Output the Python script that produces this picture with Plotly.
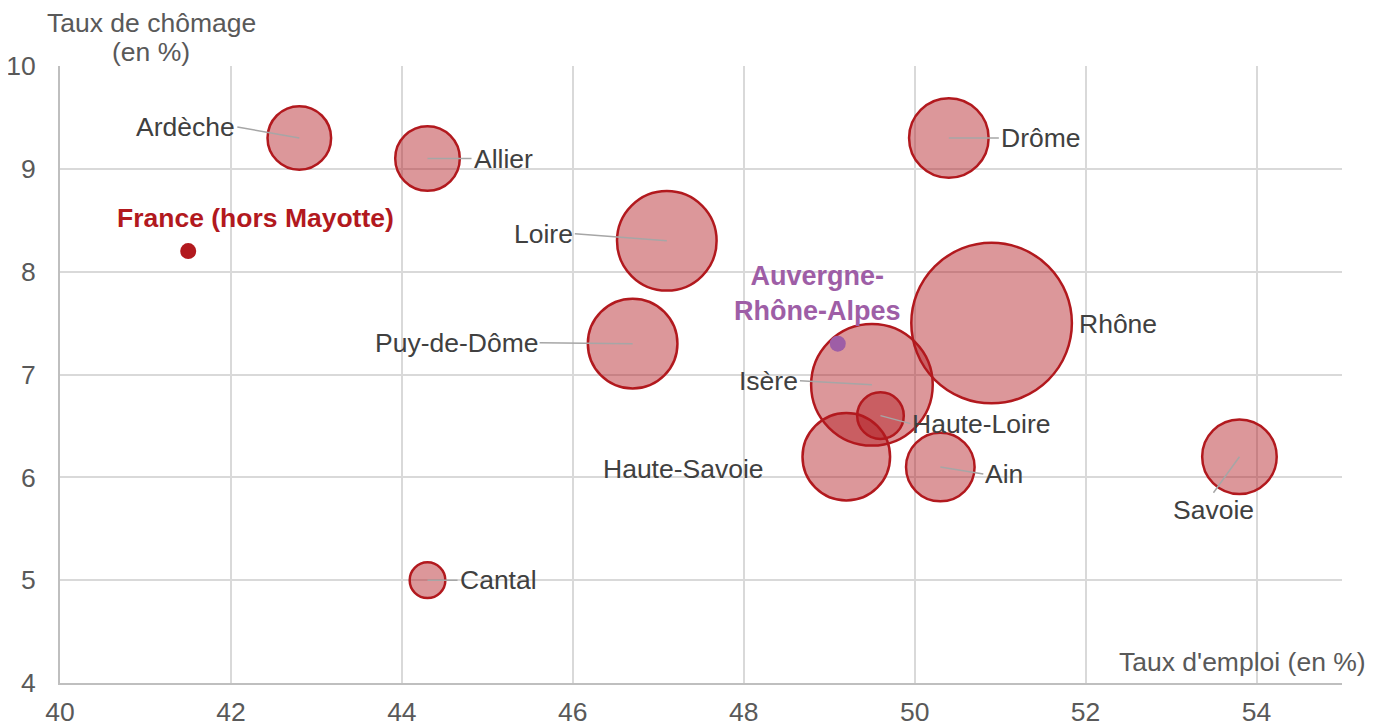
import plotly.graph_objects as go

# Data
departements = ["Ardèche", "Allier", "Drôme", "Loire", "Rhône", "Puy-de-Dôme",
                "Isère", "Haute-Loire", "Haute-Savoie", "Ain", "Savoie", "Cantal"]
taux_emploi = [42.8, 44.3, 50.4, 47.1, 50.9, 46.7, 49.5, 49.6, 49.2, 50.3, 53.8, 44.3]
taux_chomage = [9.3, 9.1, 9.3, 8.3, 7.5, 7.3, 6.9, 6.6, 6.2, 6.1, 6.2, 5.0]
poids = [283, 292, 443, 694, 1805, 562, 1035, 152, 537, 329, 389, 89]

ref_noms = ["France (hors Mayotte)", "Auvergne-<br>Rhône-Alpes"]
ref_emploi = [41.5, 49.1]
ref_chomage = [8.2, 7.3]

x_ticks = [40, 42, 44, 46, 48, 50, 52, 54]
y_ticks = [4, 5, 6, 7, 8, 9, 10]

# label placement (pixel offsets) : (ax, ay, xanchor, yanchor, arrow)
label_style = {
    "Ardèche": (-62, -11, "right", "middle", True),
    "Allier": (44, 0, "left", "middle", True),
    "Drôme": (50, 0, "left", "middle", True),
    "Loire": (-92, -7, "right", "middle", True),
    "Rhône": (85, 1, "left", "middle", False),
    "Puy-de-Dôme": (-93, -1, "right", "middle", True),
    "Isère": (-72, -4, "right", "middle", True),
    "Haute-Loire": (30, 8, "left", "middle", True),
    "Haute-Savoie": (-80, 12, "right", "middle", False),
    "Ain": (43, 7, "left", "middle", True),
    "Savoie": (-26, 36, "center", "top", True),
    "Cantal": (30, 0, "left", "middle", True),
}

FONT = "Liberation Sans, Arial, sans-serif"
FS = 26.5
RED = "#B2191E"
PURPLE = "#9E5EA6"
sizeref = 0.14

fig = go.Figure()
fig.add_trace(go.Scatter(
    x=taux_emploi, y=taux_chomage, mode="markers",
    marker=dict(size=poids, sizemode="area", sizeref=sizeref, opacity=1,
                color="rgba(178,25,30,0.45)",
                line=dict(color=RED, width=2.5)),
    hoverinfo="text", text=departements, showlegend=False))

fig.add_trace(go.Scatter(
    x=ref_emploi, y=ref_chomage, mode="markers",
    marker=dict(size=16, color=[RED, PURPLE], opacity=1, line=dict(width=0)),
    showlegend=False, hoverinfo="skip"))

annotations = []
for name, xv, yv in zip(departements, taux_emploi, taux_chomage):
    ax, ay, xa, ya, arrow = label_style[name]
    if arrow:
        annotations.append(dict(
            x=xv, y=yv, xref="x", yref="y", text=name, showarrow=True,
            ax=ax, ay=ay, xanchor=xa, yanchor=ya, arrowhead=0,
            arrowwidth=1.5, arrowcolor="#A6A6A6", standoff=0,
            font=dict(family=FONT, size=FS, color="#404040")))
    else:
        annotations.append(dict(
            x=xv, y=yv, xref="x", yref="y", text=name, showarrow=False,
            xshift=ax, yshift=-ay, xanchor=xa, yanchor=ya,
            font=dict(family=FONT, size=FS, color="#404040")))

# reference labels
annotations.append(dict(x=ref_emploi[0], y=ref_chomage[0], xref="x", yref="y",
                        text="<b>" + ref_noms[0] + "</b>", showarrow=False,
                        xshift=67, yshift=33, xanchor="center", yanchor="middle",
                        font=dict(family=FONT, size=FS, color=RED)))
annotations.append(dict(x=ref_emploi[1], y=ref_chomage[1], xref="x", yref="y",
                        text="<b>" + ref_noms[1] + "</b>", showarrow=False,
                        xshift=-20, yshift=50, xanchor="center", yanchor="middle",
                        font=dict(family=FONT, size=FS + 0.5, color=PURPLE)))

# axis titles
annotations.append(dict(x=0.071, y=1.069, xref="paper", yref="paper",
                        text="Taux de chômage", showarrow=False,
                        xanchor="center", yanchor="middle",
                        font=dict(family=FONT, size=FS, color="#595959")))
annotations.append(dict(x=0.071, y=1.022, xref="paper", yref="paper",
                        text="(en %)", showarrow=False,
                        xanchor="center", yanchor="middle",
                        font=dict(family=FONT, size=FS, color="#595959")))
annotations.append(dict(x=1.0203, y=0.034, xref="paper", yref="paper",
                        text="Taux d'emploi (en %)", showarrow=False,
                        xanchor="right", yanchor="middle",
                        font=dict(family=FONT, size=FS, color="#595959")))

fig.update_layout(
    width=1379, height=718,
    margin=dict(l=52, r=45, t=58, b=43, autoexpand=False),
    paper_bgcolor="white", plot_bgcolor="white",
    annotations=annotations,
    font=dict(family=FONT, size=FS, color="#595959"),
    xaxis=dict(range=[40, 55], tickvals=x_ticks, showgrid=True,
               gridcolor="#D9D9D9", gridwidth=2, zeroline=False,
               showline=True, linecolor="#BFBFBF", linewidth=2,
               ticks="", ticklabelstandoff=4, automargin=False,
               tickfont=dict(family=FONT, size=FS, color="#595959")),
    yaxis=dict(range=[4, 10], tickvals=y_ticks, showgrid=True,
               gridcolor="#D9D9D9", gridwidth=2, zeroline=False,
               showline=True, linecolor="#BFBFBF", linewidth=2,
               ticks="", ticklabelstandoff=17, automargin=False,
               tickfont=dict(family=FONT, size=FS, color="#595959")),
)

fig.write_html("out.html")
